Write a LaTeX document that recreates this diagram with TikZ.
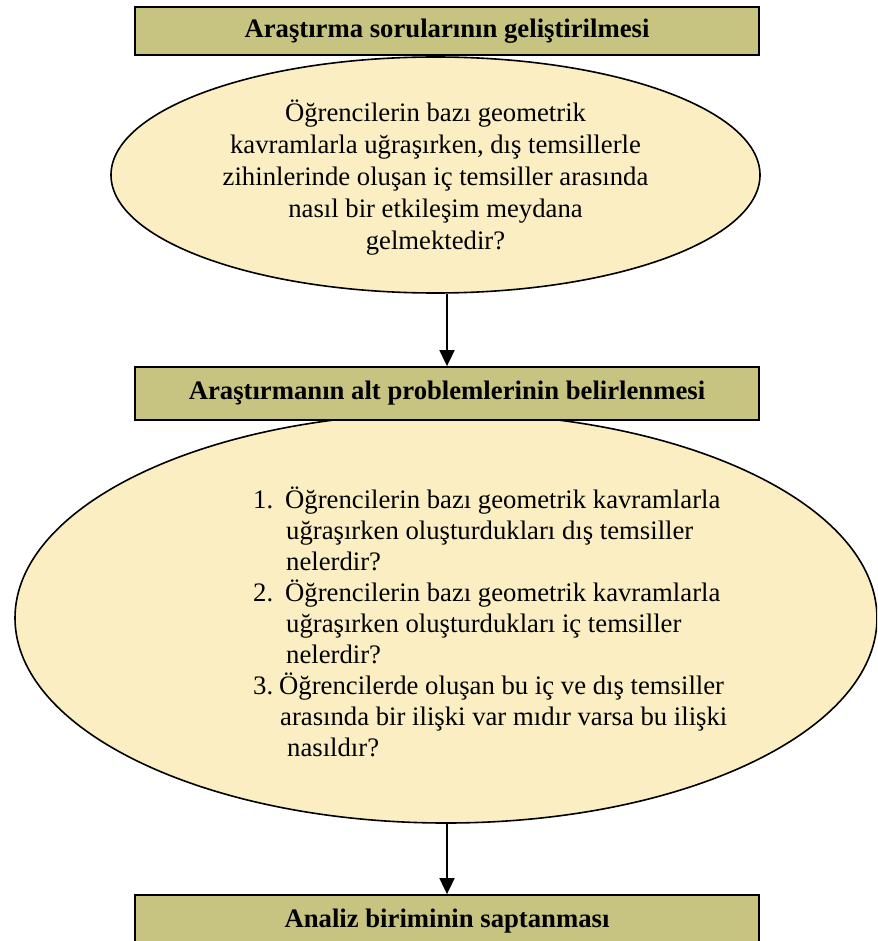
\documentclass[tikz,border=0pt]{standalone}
\usepackage{fontspec}
\setmainfont{Liberation Serif}
\usetikzlibrary{shapes.geometric,arrows.meta}
\definecolor{boxfill}{RGB}{199,196,129}
\definecolor{ovalfill}{RGB}{250,238,194}
\begin{document}
\begin{tikzpicture}[x=1pt,y=-1pt,
  stagebox/.style={draw=black,line width=1.8pt,fill=boxfill,minimum width=624pt,
    minimum height=#1,inner sep=0pt,font=\bfseries\fontsize{26.7}{32}\selectfont},
  oval/.style={draw=black,line width=1.6pt,fill=ovalfill,ellipse,inner sep=0pt},
  body/.style={inner sep=0pt,font=\fontsize{26.7}{31}\selectfont},
  flow/.style={line width=1.8pt,-{Triangle[width=15pt,length=16pt]}}]
\useasboundingbox (0,0) rectangle (877,941);
\clip (0,0) rectangle (877,941);

% question ovals
\node[oval,minimum width=649pt,minimum height=236pt] (q1) at (435.5,175) {};
\node[body,align=center,font=\fontsize{26.7}{32}\selectfont] (q1t) at (435.5,178)
  {Öğrencilerin bazı geometrik\\
   kavramlarla uğraşırken, dış temsillerle\\
   zihinlerinde oluşan iç temsiller arasında\\
   nasıl bir etkileşim meydana\\
   gelmektedir?};

\node[oval,minimum width=862pt,minimum height=410pt] (q2) at (446,618) {};
\node[body,align=left,anchor=west] (q2t) at (253,622)
  {\makebox[32pt][l]{1.}Öğrencilerin bazı geometrik kavramlarla\\
   \hspace*{33pt}uğraşırken oluşturdukları dış temsiller\\
   \hspace*{33pt}nelerdir?\\
   \makebox[32pt][l]{2.}Öğrencilerin bazı geometrik kavramlarla\\
   \hspace*{33pt}uğraşırken oluşturdukları iç temsiller\\
   \hspace*{33pt}nelerdir?\\
   \makebox[26pt][l]{3.}Öğrencilerde oluşan bu iç ve dış temsiller\\
   \hspace*{27pt}arasında bir ilişki var mıdır varsa bu ilişki\\
   \hspace*{34pt}nasıldır?};

% stage boxes
\node[stagebox=48pt] (b1) at (447,31) {Araştırma sorularının geliştirilmesi};
\node[stagebox=53pt] (b2) at (447,393.5) {Araştırmanın alt problemlerinin belirlenmesi};
\node[stagebox=53pt] (b3) at (447,921.5) {Analiz biriminin saptanması};

% flow arrows
\draw[flow] (q1.south -| b2.north) -- (b2.north);
\draw[flow] (q2.south -| b3.north) -- (b3.north);
\end{tikzpicture}
\end{document}
